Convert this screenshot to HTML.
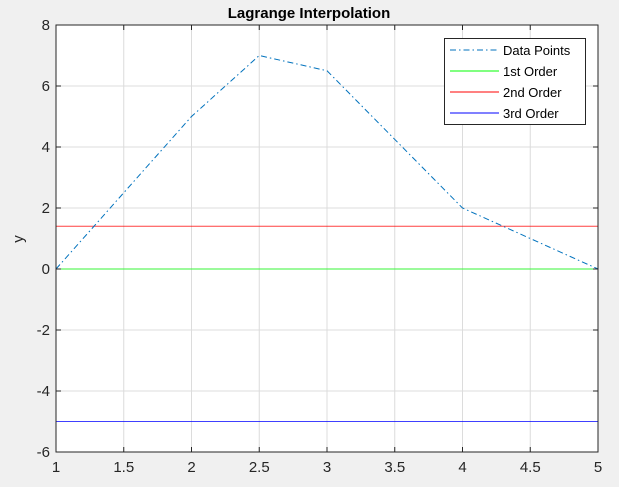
<!DOCTYPE html>
<html><head><meta charset="utf-8"><style>
body{margin:0;background:#f0f0f0;}
svg{display:block;font-family:"Liberation Sans",sans-serif;}
</style></head><body>
<svg id="chart" width="619" height="487">
<rect x="0" y="0" width="619" height="487" fill="#f0f0f0"/>
<rect x="56" y="25" width="542" height="427" fill="#fff"/>
<g id="grid"></g>
<g id="series"></g>
<rect x="56" y="25" width="542" height="427" fill="none" stroke="#262626" stroke-width="1"/>
<g id="ticks"></g>
<text x="309" y="18" text-anchor="middle" font-size="15" font-weight="bold" fill="#000">Lagrange Interpolation</text>
<text x="23" y="239" text-anchor="middle" font-size="15" fill="#262626" transform="rotate(-90 23 239)">y</text>
<g>
<rect x="444.5" y="38.5" width="141" height="86" fill="#fff" stroke="#262626"/>
<line x1="450" y1="50" x2="499" y2="50" stroke="#0072bd" stroke-dasharray="6,3,1.5,3"/>
<text x="503" y="55" font-size="13" fill="#000">Data Points</text>
<line x1="450" y1="71" x2="499" y2="71" stroke="#00ff00"/>
<text x="503" y="76" font-size="13" fill="#000">1st Order</text>
<line x1="450" y1="92" x2="499" y2="92" stroke="#ff0000"/>
<text x="503" y="97" font-size="13" fill="#000">2nd Order</text>
<line x1="450" y1="113" x2="499" y2="113" stroke="#0000ff"/>
<text x="503" y="118" font-size="13" fill="#000">3rd Order</text>
</g>
</svg>
<script>
const xs = [1, 2, 2.5, 3, 4, 5];
const ys = [0, 5, 7, 6.5, 2, 0];
const order1 = 0;
const order2 = 1.4;
const order3 = -5;
const xTicks = [1, 1.5, 2, 2.5, 3, 3.5, 4, 4.5, 5];
const yTicks = [-6, -4, -2, 0, 2, 4, 6, 8];
const X0=56, X1=598, Y0=452, Y1=25;
const sx = v => X0 + (v-1)/(5-1)*(X1-X0);
const sy = v => Y0 - (v+6)/(8+6)*(Y0-Y1);
const NS="http://www.w3.org/2000/svg";
const grid=document.getElementById('grid'), ticks=document.getElementById('ticks'), series=document.getElementById('series');
function mk(tag, attrs, parent){const e=document.createElementNS(NS,tag);for(const k in attrs)e.setAttribute(k,attrs[k]);parent.appendChild(e);return e;}
xTicks.forEach(t=>{
  const x=sx(t);
  const g=mk('line',{x1:x,y1:Y1,x2:x,y2:Y0,stroke:'#dcdcdc'},grid);
  
  
  const tk=mk('line',{x1:x,y1:Y0,x2:x,y2:Y0-5,stroke:'#262626'},ticks);
  
  
  const tk2=mk('line',{x1:x,y1:Y1,x2:x,y2:Y1+5,stroke:'#262626'},ticks);
  
  
  const l=mk('text',{x:x,y:Y0+20,'text-anchor':'middle','font-size':15,fill:'#262626'},ticks);
  l.textContent=t;
  
  
});
yTicks.forEach(t=>{
  const y=sy(t);
  const g=mk('line',{x1:X0,y1:y,x2:X1,y2:y,stroke:'#dcdcdc'},grid);
  
  
  const tk=mk('line',{x1:X0,y1:y,x2:X0+5,y2:y,stroke:'#262626'},ticks);
  
  
  const tk2=mk('line',{x1:X1,y1:y,x2:X1-5,y2:y,stroke:'#262626'},ticks);
  
  
  const l=mk('text',{x:X0-6,y:y+5,'text-anchor':'end','font-size':15,fill:'#262626'},ticks);
  l.textContent=t;
  
  
});
[[order3,'#0000ff','order-3-line'],[order1,'#00ff00','order-1-line'],[order2,'#ff0000','order-2-line']].forEach(([v,c,n])=>{
  const ln=mk('line',{x1:X0,y1:sy(v),x2:X1,y2:sy(v),stroke:c,'stroke-opacity':0.75},series);
  
  
});
const p=mk('polyline',{points:xs.map((x,i)=>sx(x)+','+sy(ys[i])).join(' '),fill:'none',stroke:'#0072bd','stroke-dasharray':'6,3,1.5,3'},series);


</script>
</body></html>
